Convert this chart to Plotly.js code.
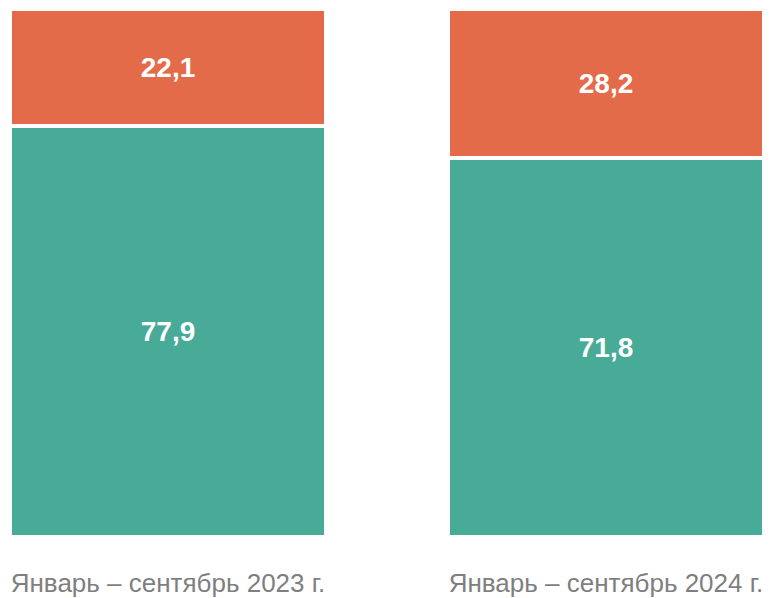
<!DOCTYPE html>
<html>
<head>
<meta charset="utf-8">
<script src="https://cdn.plot.ly/plotly-3.0.1.min.js"></script>
<style>html,body{margin:0;padding:0;background:#fff;}#chart{width:774px;height:598px;}</style>
</head>
<body>
<div id="chart"></div>
<script>
const categories = ["Январь – сентябрь 2023 г.", "Январь – сентябрь 2024 г."];
const greenValues = [77.9, 71.8];
const orangeValues = [22.1, 28.2];

const xPos = categories.map((c, i) => i);
const fmt = v => v.toFixed(1).replace(".", ",");

const common = {
  type: "bar",
  x: xPos,
  width: 0.722,
  textposition: "inside",
  insidetextanchor: "middle",
  textfont: {family: "Liberation Sans, Arial, sans-serif", size: 28, color: "#ffffff", weight: "bold"},
  hoverinfo: "skip",
  cliponaxis: false
};

const traces = [
  Object.assign({}, common, {
    y: greenValues,
    text: greenValues.map(fmt),
    marker: {color: "#47AB98", line: {color: "#ffffff", width: 4}}
  }),
  Object.assign({}, common, {
    y: orangeValues,
    text: orangeValues.map(fmt),
    marker: {color: "#E46B4A", line: {color: "#ffffff", width: 4}}
  })
];

const layout = {
  width: 774,
  height: 598,
  margin: {l: 0, r: 0, t: 9, b: 61},
  barmode: "stack",
  showlegend: false,
  paper_bgcolor: "#ffffff",
  plot_bgcolor: "#ffffff",
  xaxis: {
    range: [-0.3836, 1.3836],
    tickmode: "array",
    tickvals: xPos,
    ticktext: categories,
    showgrid: false,
    zeroline: false,
    showline: false,
    ticks: "outside",
    ticklen: 23,
    tickcolor: "rgba(0,0,0,0)",
    tickfont: {family: "Liberation Sans, Arial, sans-serif", size: 26, color: "#7F7F7F"}
  },
  yaxis: {
    range: [0, 100],
    visible: false,
    showgrid: false,
    zeroline: false
  }
};

Plotly.newPlot("chart", traces, layout, {displayModeBar: false, staticPlot: true});
</script>
</body>
</html>
